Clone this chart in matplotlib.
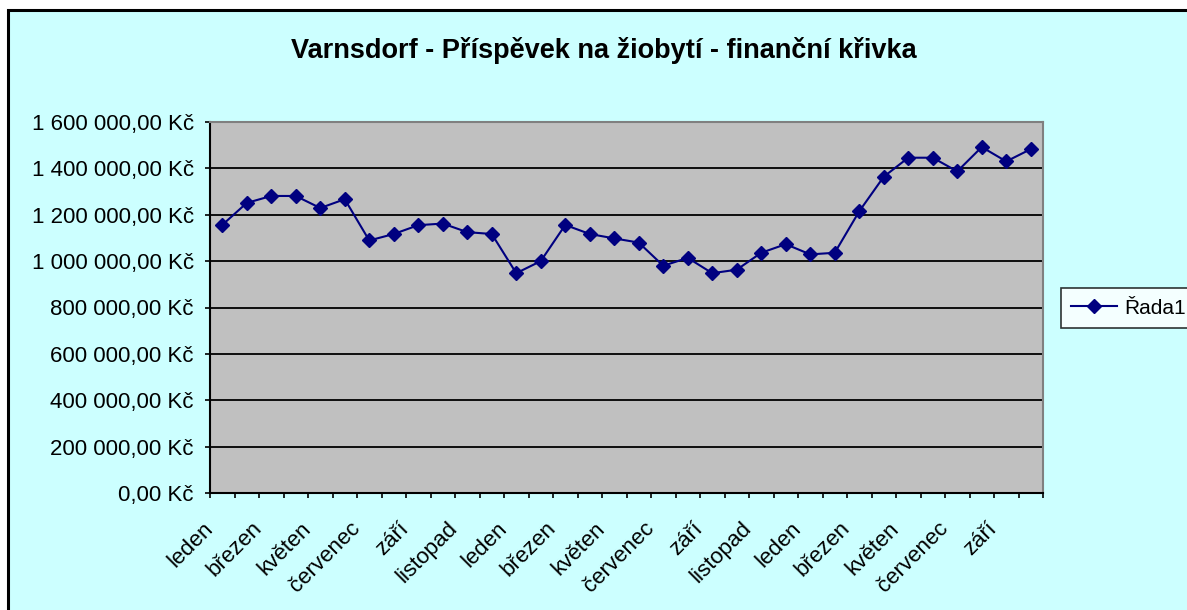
import numpy as np
import matplotlib
matplotlib.use("Agg")
import matplotlib.pyplot as plt
from matplotlib.patches import Rectangle
from matplotlib.ticker import FuncFormatter, FixedLocator

plt.rcParams['font.family'] = ['Liberation Sans', 'DejaVu Sans']

# data
mesice = ["leden", "únor", "březen", "duben", "květen", "červen",
          "červenec", "srpen", "září", "říjen", "listopad", "prosinec"]
kategorie = (mesice * 3)[:34]
hodnoty = [1156000, 1251000, 1281000, 1281000, 1229000, 1267000,
           1089000, 1117000, 1155000, 1162000, 1125000, 1117000,
           948000, 1000000, 1156000, 1117000, 1098000, 1080000,
           980000, 1014000, 948000, 963000, 1036000, 1073000,
           1029000, 1036000, 1215000, 1364000, 1446000, 1446000,
           1387000, 1492000, 1430000, 1483000]
nazev = "Varnsdorf - Příspěvek na žiobytí - finanční křivka"
serie = "Řada1"

fig = plt.figure(figsize=(11.87, 6.10), dpi=100)
fig.patch.set_facecolor("white")

# chart area frame
ram = Rectangle((8 / 1187, -0.05), 1.1, 0.9836 + 0.05,
                transform=fig.transFigure, facecolor="#CCFFFF",
                edgecolor="black", linewidth=2.2, zorder=-5)
fig.add_artist(ram)

ax = fig.add_axes([210 / 1187, 1 - 493 / 610, (1043 - 210) / 1187, (493 - 122) / 610])
ax.set_zorder(1)
ax.set_facecolor("#C0C0C0")

x = np.arange(len(hodnoty))
ax.plot(x, hodnoty, color="#000080", linewidth=1.5, marker="D",
        markersize=6.8, label=serie, zorder=3)

ax.set_xlim(-0.5, len(hodnoty) - 0.5)
ax.set_ylim(0, 1600000)
ax.set_yticks(np.arange(0, 1600001, 200000))
ax.yaxis.set_major_formatter(FuncFormatter(
    lambda v, p: "{:,.2f}".format(v).replace(",", " ").replace(".", ",") + " Kč"))
ax.grid(axis="y", color="black", linewidth=1.3, zorder=1)
ax.set_axisbelow(True)

# popisky jako v Excelu: pravý horní roh kousek vlevo od středu kategorie
ax.set_xticks(x[::2] - 0.2)
ax.set_xticklabels(kategorie[::2], rotation=45, ha="right", va="top")
ax.xaxis.set_minor_locator(FixedLocator(np.arange(-0.5, len(hodnoty), 1)))
ax.tick_params(axis="x", which="major", length=0, pad=18, labelsize=16)
ax.tick_params(axis="x", which="minor", length=3.6, width=1.2, direction="out")
ax.tick_params(axis="y", length=3.6, width=1.2, labelsize=16, pad=8)

for s in ["left", "bottom"]:
    ax.spines[s].set_color("black")
    ax.spines[s].set_linewidth(1.5)
for s in ["top", "right"]:
    ax.spines[s].set_color("#808080")
    ax.spines[s].set_linewidth(1.5)

fig.text(604 / 1187, 1 - 51 / 610, nazev, ha="center", va="center",
         fontsize=19.5, fontweight="bold")

leg = fig.legend(loc="center left", bbox_to_anchor=(1061 / 1187, 1 - 308 / 610),
                 fontsize=15, frameon=True, fancybox=False, handlelength=2.2,
                 borderpad=0.5, borderaxespad=0, handletextpad=0.35)
leg.get_frame().set_edgecolor("black")
leg.get_frame().set_linewidth(1.2)
leg.get_frame().set_facecolor("white")

fig.savefig("out.png", dpi=100, facecolor=fig.get_facecolor())
